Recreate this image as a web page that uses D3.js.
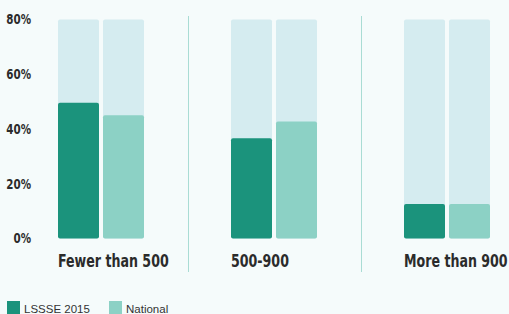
<!DOCTYPE html>
<html>
<head>
<meta charset="utf-8">
<script src="https://cdn.jsdelivr.net/npm/d3@7"></script>
<style>
  html, body { margin: 0; padding: 0; background: #f5fbfb; }
  svg { display: block; }
  .cond { font-family: "DejaVu Sans Condensed", "DejaVu Sans", sans-serif; font-stretch: condensed; font-weight: bold; }
</style>
</head>
<body>
<div id="chart"></div>
<script>
// chart data
const categories = ['Fewer than 500', '500-900', 'More than 900'];
const seriesNames = ['LSSSE 2015', 'National'];
const lssse = [49.6, 36.6, 12.6];
const national = [45.0, 42.7, 12.6];
const yTicks = [0, 20, 40, 60, 80];
const yMax = 80;

const width = 509, height = 314;
const colors = { 'LSSSE 2015': '#1b937c', 'National': '#8cd1c5' };
const trackColor = '#d5ecf0';

const svg = d3.select('#chart').append('svg').attr('width', width).attr('height', height);

const x = d3.scaleBand().domain(categories).range([14.5, 14.5 + 173 * categories.length]).padding(0);
const xInner = d3.scaleBand().domain(seriesNames).range([0, 86]).paddingInner(4 / 45);
const y = d3.scaleLinear().domain([0, yMax]).range([238.5, 19.5]);

const rows = categories.map((c, i) => ({ cat: c, values: [
  { name: seriesNames[0], value: lssse[i] },
  { name: seriesNames[1], value: national[i] }
]}));

// separators between groups
svg.selectAll('.sep').data(categories.slice(1)).enter().append('line')
  .attr('x1', d => Math.round(x(d)) + 0.5).attr('x2', d => Math.round(x(d)) + 0.5)
  .attr('y1', 16).attr('y2', 272)
  .attr('stroke', '#a9dcd4').attr('stroke-width', 1);

const groups = svg.selectAll('.grp').data(rows).enter().append('g')
  .attr('transform', d => `translate(${x(d.cat) + x.bandwidth() / 2 - 43},0)`);

// background tracks
groups.selectAll('.track').data(d => d.values).enter().append('rect')
  .attr('x', d => xInner(d.name)).attr('width', xInner.bandwidth())
  .attr('y', y(yMax)).attr('height', y(0) - y(yMax))
  .attr('rx', 2).attr('fill', trackColor);

// value bars
groups.selectAll('.bar').data(d => d.values).enter().append('rect')
  .attr('x', d => xInner(d.name)).attr('width', xInner.bandwidth())
  .attr('y', d => y(d.value)).attr('height', d => y(0) - y(d.value))
  .attr('rx', 2).attr('fill', d => colors[d.name]);

// category labels (squeezed to look like the narrow display face)
groups.append('g').attr('transform', 'translate(0,267) scale(0.78,1)')
  .append('text')
  .attr('class', 'cond')
  .attr('font-size', 18).attr('fill', '#2b2b2b')
  .text(d => d.cat);

// y axis
const yAxis = svg.append('g').attr('transform', 'translate(31,0)')
  .call(d3.axisLeft(y).tickValues(yTicks).tickFormat(d => d + '%').tickSize(0).tickPadding(0));
yAxis.select('.domain').remove();
yAxis.selectAll('text')
  .attr('class', 'cond').attr('font-family', null)
  .attr('transform', 'scale(0.85,1)')
  .attr('font-size', 13.5).attr('fill', '#2b2b2b');

// legend
const legend = svg.selectAll('.leg').data(seriesNames).enter().append('g')
  .attr('transform', (d, i) => `translate(${7 + i * 102},301)`);
legend.append('rect').attr('width', 13).attr('height', 13).attr('fill', d => colors[d]);
legend.append('text').attr('x', 17).attr('y', 12)
  .attr('font-family', '"Liberation Sans", sans-serif').attr('font-size', 11.5).attr('fill', '#333')
  .text(d => d);
</script>
</body>
</html>
